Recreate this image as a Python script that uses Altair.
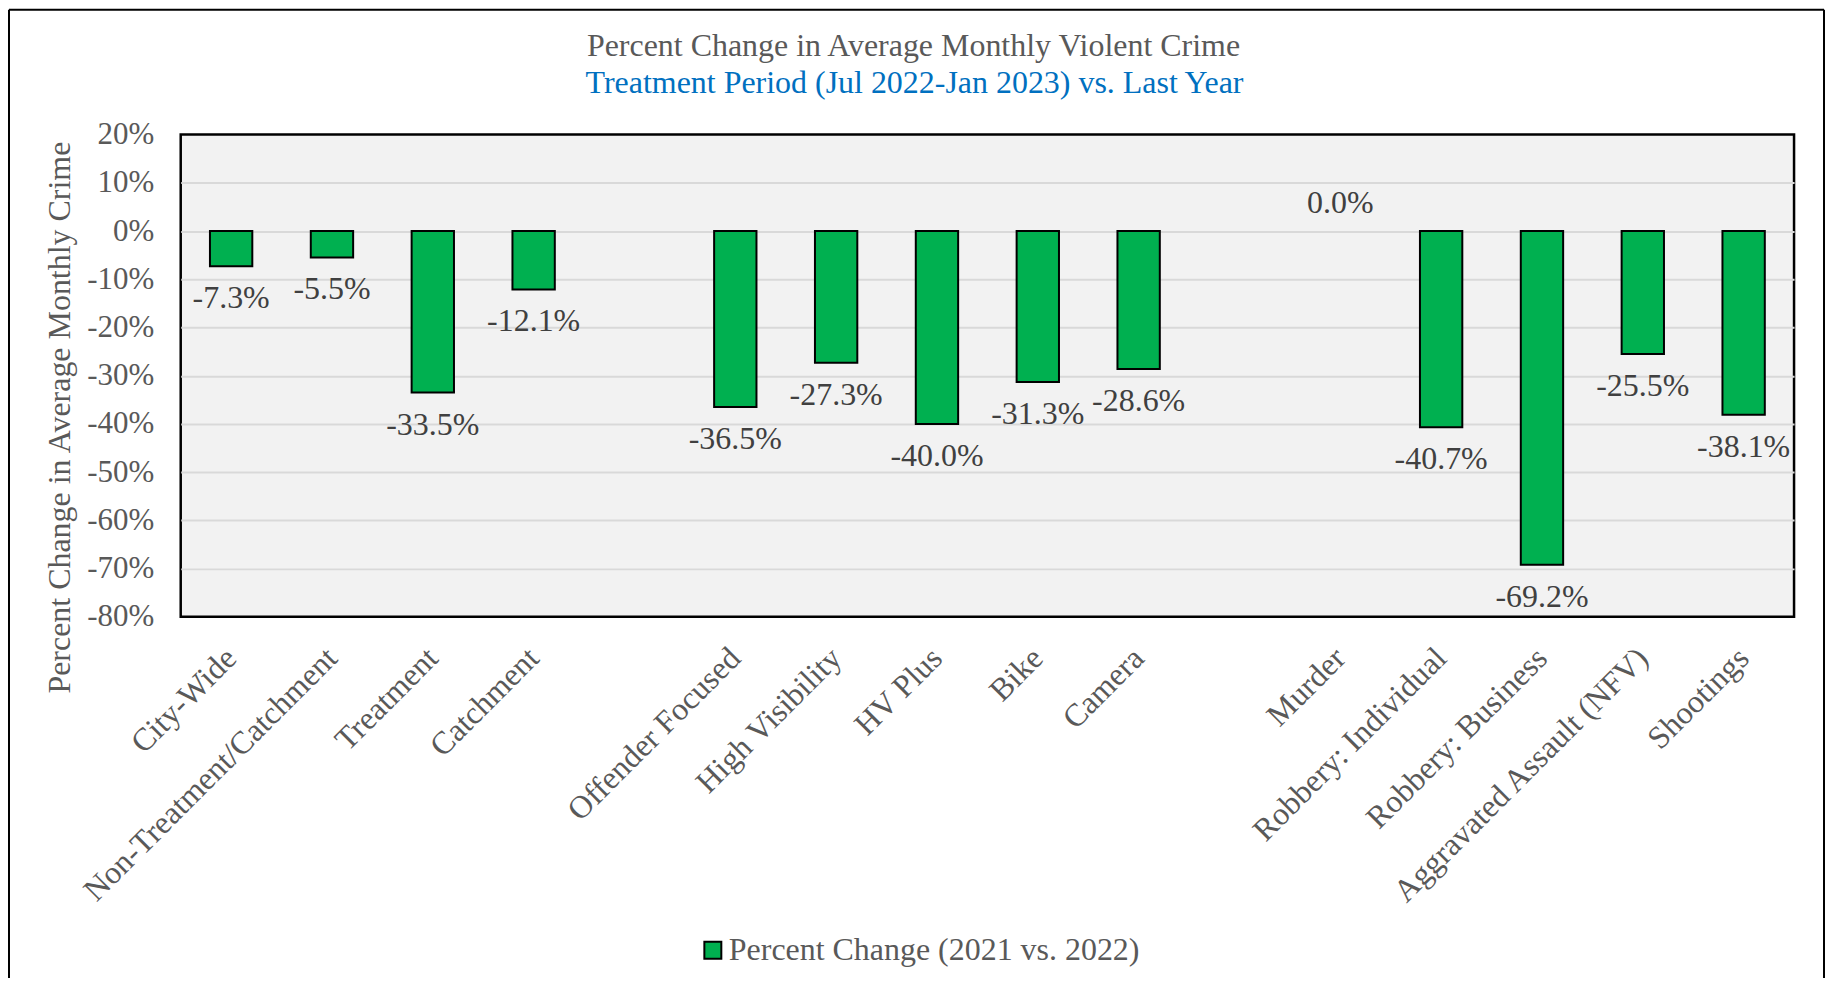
import altair as alt
import pandas as pd

# ---------------- data ----------------
categories = ["City-Wide", "Non-Treatment/Catchment", "Treatment", "Catchment", " ",
              "Offender Focused", "High Visibility", "HV Plus", "Bike", "Camera", "  ",
              "Murder", "Robbery: Individual", "Robbery: Business",
              "Aggravated Assault (NFV)", "Shootings"]
bar_categories = ["City-Wide", "Non-Treatment/Catchment", "Treatment", "Catchment",
                  "Offender Focused", "High Visibility", "HV Plus", "Bike", "Camera",
                  "Murder", "Robbery: Individual", "Robbery: Business",
                  "Aggravated Assault (NFV)", "Shootings"]
pct_change = [-7.3, -5.5, -33.5, -12.1, -36.5, -27.3, -40.0, -31.3, -28.6,
              0.0, -40.7, -69.2, -25.5, -38.1]
y_ticks = [0.2, 0.1, 0.0, -0.1, -0.2, -0.3, -0.4, -0.5, -0.6, -0.7, -0.8]
series_name = "Percent Change (2021 vs. 2022)"
title_text = "Percent Change in Average Monthly Violent Crime"
subtitle_text = "Treatment Period (Jul 2022-Jan 2023) vs. Last Year"
y_title = "Percent Change in Average Monthly Crime"

df = pd.DataFrame({
    "category": bar_categories,
    "value": [v / 100 for v in pct_change],
    "series": series_name,
})
one_row = pd.DataFrame({"k": [0]})

FONT = "Liberation Serif"
GRAY = "#595959"

x_enc = alt.X(
    "category:N",
    scale=alt.Scale(domain=categories, paddingInner=0.58, paddingOuter=0.29),
    axis=alt.Axis(title=None, labelAngle=-45, labelAlign="right", labelBaseline="middle",
                  labelPadding=36, labelFontSize=32, labelColor=GRAY, labelLimit=1000,
                  ticks=False, domain=False, grid=False, labelFont=FONT),
)
y_enc = alt.Y(
    "value:Q",
    scale=alt.Scale(domain=[-0.8, 0.2], nice=False, zero=False),
    axis=alt.Axis(values=y_ticks, format=".0%", title=y_title, titleFontSize=32,
                  titleColor=GRAY, titleFontWeight="normal", titleFont=FONT,
                  titleAngle=-90, titleAlign="center", titleBaseline="alphabetic",
                  titleX=-111, titleY=283,
                  labelFontSize=31, labelColor=GRAY, labelPadding=27, labelFont=FONT,
                  ticks=False, domain=False, grid=True,
                  gridColor=alt.condition("datum.value >= 0.19 || datum.value <= -0.79",
                                          alt.value("transparent"), alt.value("#D9D9D9")),
                  gridWidth=2),
)

bars = alt.Chart(df).transform_filter("datum.value != 0").mark_bar(
    stroke="black", strokeWidth=2
).encode(
    x=x_enc,
    y=y_enc,
    color=alt.Color("series:N", scale=alt.Scale(range=["#00B050"]),
                    legend=alt.Legend(title=None, orient="none", legendX=517, legendY=801,
                                      symbolType="square", symbolSize=289,
                                      symbolStrokeColor="black", symbolStrokeWidth=2,
                                      symbolFillColor="#00B050",
                                      labelFontSize=32, labelColor=GRAY, labelFont=FONT,
                                      labelOffset=0, labelLimit=1000)),
)

labels_neg = alt.Chart(df).transform_filter("datum.value < 0").mark_text(
    baseline="top", dy=17, fontSize=32, color="#404040", font=FONT
).encode(x=x_enc, y=y_enc, text=alt.Text("value:Q", format=".1%"))

labels_pos = alt.Chart(df).transform_filter("datum.value >= 0").mark_text(
    baseline="alphabetic", dy=-18, fontSize=32, color="#404040", font=FONT
).encode(x=x_enc, y=y_enc, text=alt.Text("value:Q", format=".1%"))

title_df = pd.DataFrame({"t": [title_text]})
subtitle_df = pd.DataFrame({"t": [subtitle_text]})
title_mark = alt.Chart(title_df).mark_text(
    fontSize=32, color=GRAY, align="center", baseline="alphabetic", font=FONT
).encode(x=alt.value(734), y=alt.value(-79), text="t:N")
subtitle_mark = alt.Chart(subtitle_df).mark_text(
    fontSize=32, color="#0070C0", align="center", baseline="alphabetic", font=FONT
).encode(x=alt.value(735), y=alt.value(-42), text="t:N")

# outer chart frame (decoration)
frame_left = alt.Chart(one_row).mark_rule(color="black", strokeWidth=2).encode(
    x=alt.value(-172), y=alt.value(-125), y2=alt.value(900))
frame_right = alt.Chart(one_row).mark_rule(color="black", strokeWidth=2).encode(
    x=alt.value(1646), y=alt.value(-125), y2=alt.value(900))
frame_top = alt.Chart(one_row).mark_rule(color="black", strokeWidth=2).encode(
    x=alt.value(-172), x2=alt.value(1646), y=alt.value(-125))

chart = alt.layer(
    frame_left, frame_right, frame_top, bars, labels_neg, labels_pos, title_mark, subtitle_mark
).properties(
    width=1616, height=483,
    autosize=alt.AutoSizeParams(type="none"),
    padding={"left": 173, "top": 126, "right": 31, "bottom": 361},
    background="white",
).configure(
    font=FONT,
    locale={"number": {"decimal": ".", "thousands": ",", "grouping": [3],
                       "currency": ["$", ""], "minus": "-"}},
).configure_view(
    fill="#F2F2F2", stroke="black", strokeWidth=2.5
)

chart.save("out.html", embed_options={"renderer": "svg", "actions": False})
